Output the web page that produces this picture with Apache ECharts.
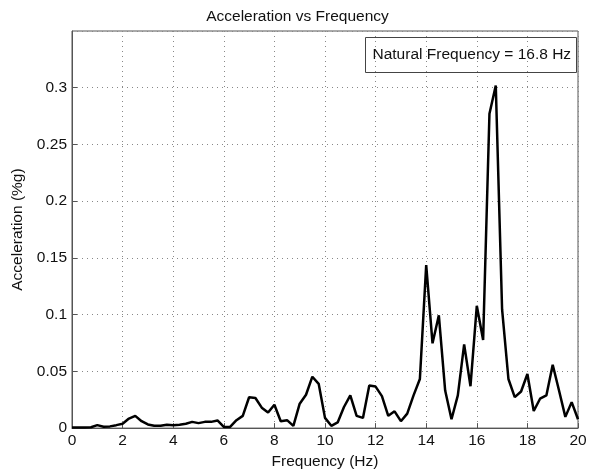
<!DOCTYPE html>
<html>
<head>
<meta charset="utf-8">
<script src="https://cdn.jsdelivr.net/npm/echarts@6/dist/echarts.min.js"></script>
<style>html,body{margin:0;padding:0;background:#fff}#c{width:595px;height:475px}</style>
</head>
<body>
<div id="c"></div>
<script>
const freq = [0,0.25,0.5,0.75,1,1.25,1.5,1.75,2,2.25,2.5,2.75,3,3.25,3.5,3.75,4,4.25,4.5,4.75,5,5.25,5.5,5.75,6,6.25,6.5,6.75,7,7.25,7.5,7.75,8,8.25,8.5,8.75,9,9.25,9.5,9.75,10,10.25,10.5,10.75,11,11.25,11.5,11.75,12,12.25,12.5,12.75,13,13.25,13.5,13.75,14,14.25,14.5,14.75,15,15.25,15.5,15.75,16,16.25,16.5,16.75,17,17.25,17.5,17.75,18,18.25,18.5,18.75,19,19.25,19.5,19.75,20];
const accel = [0.0005,0.0005,0.0005,0.0008,0.0026,0.0012,0.0015,0.0026,0.0038,0.0084,0.0108,0.0061,0.0032,0.002,0.002,0.003,0.0026,0.003,0.0038,0.0055,0.0044,0.0055,0.0055,0.0067,0.001,0.001,0.007,0.0108,0.0272,0.0265,0.018,0.0137,0.0206,0.0061,0.007,0.002,0.0215,0.0294,0.0453,0.039,0.009,0.002,0.005,0.0186,0.0288,0.0108,0.009,0.0375,0.0366,0.0282,0.0108,0.0148,0.0061,0.0128,0.0288,0.0433,0.1436,0.0747,0.0994,0.0331,0.0078,0.0288,0.0738,0.0369,0.1078,0.0776,0.277,0.302,0.1046,0.0433,0.0273,0.0323,0.0477,0.0151,0.0259,0.0288,0.0558,0.0331,0.0099,0.0229,0.0078];
const yTicks = ['0','0.05','0.1','0.15','0.2','0.25','0.3'];
const annotation = 'Natural Frequency = 16.8 Hz';

const chart = echarts.init(document.getElementById('c'));
const font = 'Liberation Sans, Arial, sans-serif';
const fs = 15.5;
const axisCommon = {
  axisLine: {show: true, onZero: false, lineStyle: {color: '#555', width: 1}},
  axisTick: {show: true, inside: true, length: 5, lineStyle: {color: '#555'}},
  splitLine: {show: true, lineStyle: {color: '#888', type: [1, 4], width: 1}},
  nameTextStyle: {color: '#111', fontSize: fs, fontFamily: font}
};
chart.setOption({
  animation: false,
  title: {text: 'Acceleration vs Frequency', left: 'center', top: 4,
    textStyle: {fontSize: fs, fontWeight: 'normal', color: '#111', fontFamily: font}},
  grid: {left: 72, right: 17, top: 31, bottom: 42, show: true, borderColor: '#555', borderWidth: 1},
  xAxis: Object.assign({}, axisCommon, {
    type: 'value', min: 0, max: 20, interval: 2,
    name: 'Frequency (Hz)', nameLocation: 'middle', nameGap: 24,
    axisLabel: {color: '#111', fontSize: fs, fontFamily: font, margin: 5}
  }),
  yAxis: Object.assign({}, axisCommon, {
    type: 'value', min: 0, max: 0.35, interval: 0.05,
    name: 'Acceleration (%g)', nameLocation: 'middle', nameGap: 38,
    axisLabel: {color: '#111', fontSize: fs, fontFamily: font, margin: 5, showMaxLabel: false,
      formatter: function (v) { const i = Math.round(v / 0.05); return i < yTicks.length ? yTicks[i] : ''; }}
  }),
  series: [{
    type: 'line', data: freq.map((f, i) => [f, accel[i]]),
    showSymbol: false, lineStyle: {color: '#000', width: 2.5}, clip: true
  }],
  graphic: [{
    type: 'group', left: 365, top: 37,
    children: [
      {type: 'rect', shape: {x: 0, y: 0, width: 211, height: 35}, style: {fill: '#fff', stroke: '#444', lineWidth: 1}},
      {type: 'text', left: 7, top: 9, style: {text: annotation, font: fs + 'px ' + font, fill: '#111'}}
    ]
  }]
});
</script>
</body>
</html>
